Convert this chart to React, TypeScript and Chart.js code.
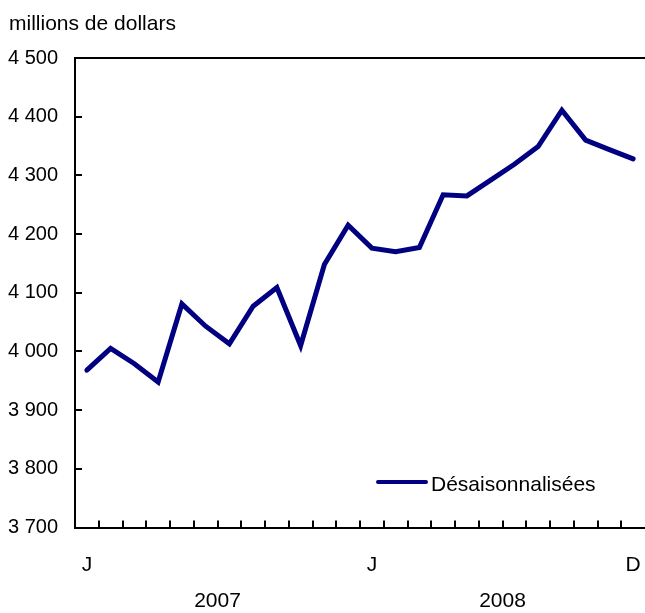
import { useEffect, useRef } from 'react';
import { Chart, registerables } from 'chart.js';

Chart.register(...registerables);

const months = ['J', 'F', 'M', 'A', 'M', 'J', 'J', 'A', 'S', 'O', 'N', 'D', 'J', 'F', 'M', 'A', 'M', 'J', 'J', 'A', 'S', 'O', 'N', 'D'];
const seriesValues = [3968, 4005, 3979, 3948, 4081, 4043, 4013, 4077, 4109, 4010, 4148, 4215, 4176, 4170, 4177, 4267, 4265, 4292, 4319, 4349, 4411, 4360, 4344, 4328];
const xTickLabels = ['J', '', '', '', '', '', '', '', '', '', '', '', 'J', '', '', '', '', '', '', '', '', '', '', 'D'];
const yearLabels = ['2007', '2008'];
const yTickValues = [3700, 3800, 3900, 4000, 4100, 4200, 4300, 4400, 4500];
const yTickLabels = ['3 700', '3 800', '3 900', '4 000', '4 100', '4 200', '4 300', '4 400', '4 500'];
const seriesName = 'Désaisonnalisées';
const unitLabel = 'millions de dollars';

const FONT = '"Liberation Sans", Arial, Helvetica, sans-serif';
const LINE_COLOR = '#000080';

const decor = {
  id: 'decor',
  afterDraw(chart: any) {
    const { ctx, chartArea: a, scales } = chart;
    const x = scales.x;
    const y = scales.y;
    const yMin = yTickValues[0];
    const yMax = yTickValues[yTickValues.length - 1];
    ctx.save();
    ctx.strokeStyle = '#000';
    ctx.lineWidth = 2;
    ctx.lineCap = 'butt';
    // top frame line
    const topY = Math.round(y.getPixelForValue(yMax));
    ctx.beginPath();
    ctx.moveTo(a.left - 1, topY);
    ctx.lineTo(a.right, topY);
    ctx.stroke();
    // y inner ticks
    ctx.beginPath();
    yTickValues.forEach((v) => {
      if (v > yMin && v < yMax) {
        const py = Math.round(y.getPixelForValue(v));
        ctx.moveTo(a.left, py);
        ctx.lineTo(a.left + 7, py);
      }
    });
    // x inner ticks at month boundaries
    for (let i = 0; i < months.length - 1; i++) {
      const px = Math.round((x.getPixelForValue(i) + x.getPixelForValue(i + 1)) / 2);
      ctx.moveTo(px, a.bottom);
      ctx.lineTo(px, a.bottom - 7);
    }
    ctx.stroke();

    ctx.fillStyle = '#000';
    ctx.font = `21px ${FONT}`;
    ctx.textBaseline = 'alphabetic';
    // year labels
    ctx.textAlign = 'center';
    yearLabels.forEach((yr, k) => {
      const first = k * 12;
      const last = k * 12 + 11;
      const cx = (x.getPixelForValue(first) + x.getPixelForValue(last)) / 2;
      ctx.fillText(yr, cx, 607);
    });
    // unit label
    ctx.textAlign = 'left';
    ctx.fillText(unitLabel, 9, 30);
    // legend
    ctx.strokeStyle = LINE_COLOR;
    ctx.lineWidth = 4;
    ctx.lineCap = 'round';
    ctx.beginPath();
    ctx.moveTo(378, 482);
    ctx.lineTo(426, 482);
    ctx.stroke();
    ctx.fillText(seriesName, 431, 491);
    ctx.restore();
  },
};

export default function App() {
  const ref = useRef<HTMLCanvasElement>(null);
  useEffect(() => {
    if (!ref.current) return;
    const chart = new Chart(ref.current, {
      type: 'line',
      data: {
        labels: months,
        datasets: [
          {
            label: seriesName,
            data: seriesValues,
            borderColor: LINE_COLOR,
            backgroundColor: LINE_COLOR,
            borderWidth: 5,
            pointRadius: 0,
            tension: 0,
            borderJoinStyle: 'miter',
            borderCapStyle: 'round',
          },
        ],
      },
      options: {
        animation: false,
        responsive: false,
        layout: { padding: { top: 58, right: 0, left: 0, bottom: 0 } },
        plugins: { legend: { display: false }, tooltip: { enabled: false }, title: { display: false } },
        scales: {
          x: {
            type: 'category',
            offset: true,
            grid: {
              display: true,
              drawOnChartArea: false,
              drawTicks: true,
              tickLength: 25,
              tickColor: 'rgba(0,0,0,0)',
            },
            border: { display: true, color: '#000', width: 2 },
            ticks: {
              autoSkip: false,
              maxRotation: 0,
              minRotation: 0,
              padding: 0,
              color: '#000',
              font: { family: FONT, size: 21 },
              callback: (_v: any, i: number) => xTickLabels[i],
            },
            afterFit: (s: any) => {
              s.height = 85.5;
            },
          },
          y: {
            min: yTickValues[0],
            max: yTickValues[yTickValues.length - 1],
            grid: { display: false },
            border: { display: true, color: '#000', width: 2 },
            ticks: {
              stepSize: 100,
              padding: 9,
              color: '#000',
              font: { family: FONT, size: 20 },
              callback: (v: any) => {
                const idx = yTickValues.indexOf(Number(v));
                return idx >= 0 ? yTickLabels[idx] : '';
              },
            },
            afterFit: (s: any) => {
              s.width = 75;
            },
          },
        },
      },
      plugins: [decor],
    });
    return () => chart.destroy();
  }, []);
  return (
    <div style={{ position: 'absolute', left: 0, top: 0, width: 645, height: 613 }}>
      <canvas ref={ref} width={645} height={613} style={{ width: 645, height: 613, display: 'block' }} />
    </div>
  );
}
